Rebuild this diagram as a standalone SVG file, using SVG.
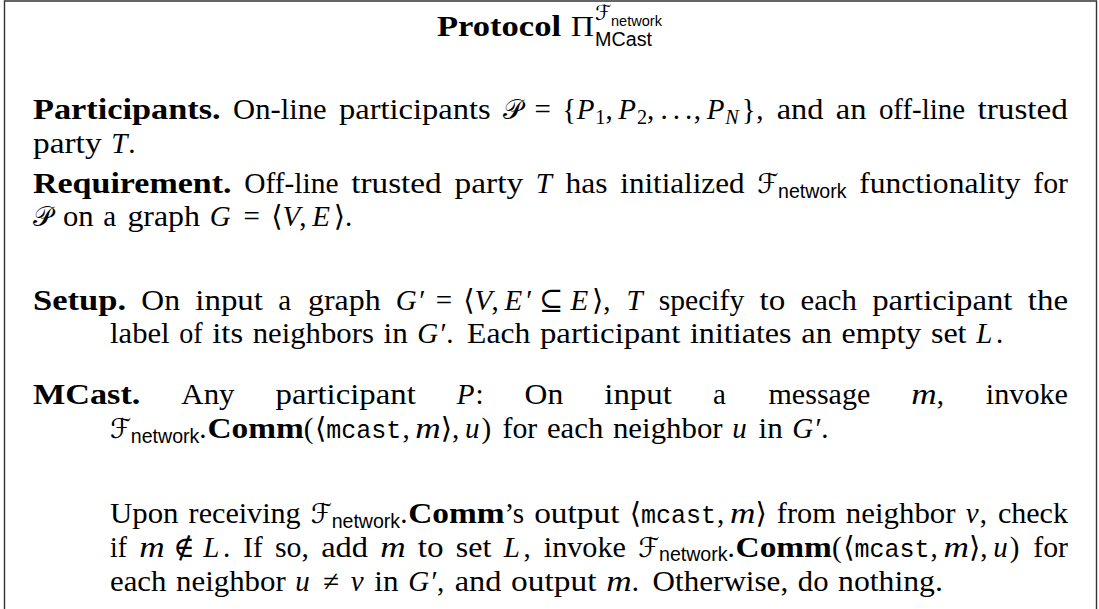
<svg xmlns="http://www.w3.org/2000/svg" width="1099" height="609" viewBox="0 0 1099 609">
<style>
text{fill:#000}
.r{font-family:"Liberation Serif","DejaVu Serif",serif;font-size:29px}
.b{font-family:"Liberation Serif","DejaVu Serif",serif;font-size:29px;font-weight:bold}
.i{font-family:"Liberation Serif","DejaVu Serif",serif;font-size:29px;font-style:italic}
.sm{font-size:20.3px}
.s{font-family:"Liberation Sans","DejaVu Sans",sans-serif;font-size:19.6px}
.t{font-family:"Liberation Mono","DejaVu Sans Mono",monospace;font-size:25px}
.c{font-family:"DejaVu Serif","DejaVu Sans",serif;font-size:27px}
.rel{text-anchor:middle}
.frame{fill:none;stroke:#333;stroke-width:1.4}
</style>
<path class="frame" d="M4.5,615 V1 H1096.5 V615"/>

<g id="title">
<text class="b" x="437" y="36" textLength="124" lengthAdjust="spacingAndGlyphs">Protocol</text>
<text class="r" x="571" y="36" textLength="23" lengthAdjust="spacingAndGlyphs">Π</text>
<text class="c" x="595" y="20" style="font-size:21px">ℱ</text>
<text class="s" x="611" y="26" style="font-size:14px" textLength="51" lengthAdjust="spacingAndGlyphs">network</text>
<text class="s" x="595" y="46" style="font-size:19.6px" textLength="57" lengthAdjust="spacingAndGlyphs">MCast</text>
</g>

<g id="participants">
<text class="b" x="33" y="119" textLength="187.68" lengthAdjust="spacingAndGlyphs">Participants.</text>
<text class="r" x="233.11" y="119" textLength="93.47" lengthAdjust="spacingAndGlyphs">On-line</text>
<text class="r" x="339.01" y="119" textLength="151.72" lengthAdjust="spacingAndGlyphs">participants</text>
<text class="c" x="503.16" y="119">𝒫</text>
<text class="r rel" x="542.8" y="119">=</text>
<text class="r" x="562.14" y="119">{</text>
<text class="i" x="576.64" y="119">P</text>
<text class="r sm" x="595.26" y="123.5">1</text>
<text class="r" x="605.41" y="119">,</text>
<text class="i" x="618.31" y="119">P</text>
<text class="r sm" x="636.93" y="123.5">2</text>
<text class="r" x="647.08" y="119">,</text>
<text class="r" x="660.4" y="119">.</text>
<text class="r" x="672.7" y="119">.</text>
<text class="r" x="685" y="119">.</text>
<text class="r" x="693.84" y="119">,</text>
<text class="i" x="706.74" y="119">P</text>
<text class="i sm" x="725.36" y="123.5">N</text>
<text class="r" x="741.66" y="119">}</text>
<text class="r" x="756.16" y="119">,</text>
<text class="r" x="776.65" y="119" textLength="46.75" lengthAdjust="spacingAndGlyphs">and</text>
<text class="r" x="835.83" y="119" textLength="30.63" lengthAdjust="spacingAndGlyphs">an</text>
<text class="r" x="878.89" y="119" textLength="86.18" lengthAdjust="spacingAndGlyphs">off-line</text>
<text class="r" x="977.5" y="119" textLength="90.48" lengthAdjust="spacingAndGlyphs">trusted</text>
<text class="r" x="33" y="152.5" textLength="68.58" lengthAdjust="spacingAndGlyphs">party</text>
<text class="i" x="111.24" y="152.5">T</text>
<text class="r" x="128.18" y="152.5">.</text>
</g>

<g id="requirement">
<text class="b" x="33" y="192.5" textLength="198.52" lengthAdjust="spacingAndGlyphs">Requirement.</text>
<text class="r" x="244.28" y="192.5" textLength="94.24" lengthAdjust="spacingAndGlyphs">Off-line</text>
<text class="r" x="351.28" y="192.5" textLength="90.48" lengthAdjust="spacingAndGlyphs">trusted</text>
<text class="r" x="454.52" y="192.5" textLength="68.58" lengthAdjust="spacingAndGlyphs">party</text>
<text class="i" x="535.86" y="192.5">T</text>
<text class="r" x="565.56" y="192.5" textLength="42.05" lengthAdjust="spacingAndGlyphs">has</text>
<text class="r" x="620.37" y="192.5" textLength="124.07" lengthAdjust="spacingAndGlyphs">initialized</text>
<text class="c" x="757.2" y="192.5">ℱ</text>
<text class="s" x="778.05" y="197.5" textLength="68.5" lengthAdjust="spacingAndGlyphs">network</text>
<text class="r" x="859.31" y="192.5" textLength="161.16" lengthAdjust="spacingAndGlyphs">functionality</text>
<text class="r" x="1033.23" y="192.5" textLength="34.74" lengthAdjust="spacingAndGlyphs">for</text>
<text class="c" x="33" y="226">𝒫</text>
<text class="r" x="62.96" y="226" textLength="30.62" lengthAdjust="spacingAndGlyphs">on</text>
<text class="r" x="103.24" y="226">a</text>
<text class="r" x="127.4" y="226" textLength="72.61" lengthAdjust="spacingAndGlyphs">graph</text>
<text class="i" x="209.67" y="226">G</text>
<text class="r rel" x="251.8" y="226">=</text>
<text class="r" x="271.14" y="226">⟨</text>
<text class="i" x="282.42" y="226">V</text>
<text class="r" x="299.33" y="226">,</text>
<text class="i" x="312.23" y="226">E</text>
<text class="r" x="333.63" y="226">⟩</text>
<text class="r" x="344.91" y="226">.</text>
</g>

<g id="setup">
<text class="b" x="33" y="309.5" textLength="93.08" lengthAdjust="spacingAndGlyphs">Setup.</text>
<text class="r" x="141.34" y="309.5" textLength="38.68" lengthAdjust="spacingAndGlyphs">On</text>
<text class="r" x="195.28" y="309.5" textLength="67.7" lengthAdjust="spacingAndGlyphs">input</text>
<text class="r" x="278.24" y="309.5">a</text>
<text class="r" x="308" y="309.5" textLength="72.61" lengthAdjust="spacingAndGlyphs">graph</text>
<text class="i" x="395.87" y="309.5">G</text>
<text class="r" x="419.2" y="309.5">′</text>
<text class="r rel" x="444" y="309.5">=</text>
<text class="r" x="463.34" y="309.5">⟨</text>
<text class="i" x="474.62" y="309.5">V</text>
<text class="r" x="491.53" y="309.5">,</text>
<text class="i" x="504.43" y="309.5">E</text>
<text class="r" x="526.3" y="309.5">′</text>
<text class="r rel" x="551.17" y="309.5">⊆</text>
<text class="i" x="570.51" y="309.5">E</text>
<text class="r" x="591.91" y="309.5">⟩</text>
<text class="r" x="603.19" y="309.5">,</text>
<text class="i" x="626.51" y="309.5">T</text>
<text class="r" x="658.71" y="309.5" textLength="85.55" lengthAdjust="spacingAndGlyphs">specify</text>
<text class="r" x="759.52" y="309.5" textLength="25.78" lengthAdjust="spacingAndGlyphs">to</text>
<text class="r" x="800.56" y="309.5" textLength="56.38" lengthAdjust="spacingAndGlyphs">each</text>
<text class="r" x="872.2" y="309.5" textLength="140.29" lengthAdjust="spacingAndGlyphs">participant</text>
<text class="r" x="1027.75" y="309.5" textLength="40.28" lengthAdjust="spacingAndGlyphs">the</text>
<text class="r" x="110" y="343" textLength="59.62" lengthAdjust="spacingAndGlyphs">label</text>
<text class="r" x="179.28" y="343" textLength="23.37" lengthAdjust="spacingAndGlyphs">of</text>
<text class="r" x="212.31" y="343" textLength="30.77" lengthAdjust="spacingAndGlyphs">its</text>
<text class="r" x="252.74" y="343" textLength="121.1" lengthAdjust="spacingAndGlyphs">neighbors</text>
<text class="r" x="383.5" y="343" textLength="24.18" lengthAdjust="spacingAndGlyphs">in</text>
<text class="i" x="417.34" y="343">G</text>
<text class="r" x="440.5" y="343">′</text>
<text class="r" x="446.13" y="343">.</text>
<text class="r" x="467.07" y="343" textLength="63.25" lengthAdjust="spacingAndGlyphs">Each</text>
<text class="r" x="539.98" y="343" textLength="140.29" lengthAdjust="spacingAndGlyphs">participant</text>
<text class="r" x="689.93" y="343" textLength="101.67" lengthAdjust="spacingAndGlyphs">initiates</text>
<text class="r" x="801.26" y="343" textLength="30.62" lengthAdjust="spacingAndGlyphs">an</text>
<text class="r" x="841.54" y="343" textLength="79.75" lengthAdjust="spacingAndGlyphs">empty</text>
<text class="r" x="930.95" y="343" textLength="35.59" lengthAdjust="spacingAndGlyphs">set</text>
<text class="i" x="976.2" y="343">L</text>
<text class="r" x="995.95" y="343">.</text>
</g>

<g id="mcast">
<text class="b" x="33" y="403.5" textLength="107.33" lengthAdjust="spacingAndGlyphs">MCast.</text>
<text class="r" x="181.35" y="403.5" textLength="53.18" lengthAdjust="spacingAndGlyphs">Any</text>
<text class="r" x="275.55" y="403.5" textLength="140.29" lengthAdjust="spacingAndGlyphs">participant</text>
<text class="i" x="456.86" y="403.5">P</text>
<text class="r" x="475.48" y="403.5">:</text>
<text class="r" x="524.56" y="403.5" textLength="38.68" lengthAdjust="spacingAndGlyphs">On</text>
<text class="r" x="604.26" y="403.5" textLength="67.7" lengthAdjust="spacingAndGlyphs">input</text>
<text class="r" x="712.98" y="403.5">a</text>
<text class="r" x="768.5" y="403.5" textLength="101.78" lengthAdjust="spacingAndGlyphs">message</text>
<text class="i" x="911.3" y="403.5" textLength="25.46" lengthAdjust="spacingAndGlyphs">m</text>
<text class="r" x="936.76" y="403.5">,</text>
<text class="r" x="985.84" y="403.5" textLength="82.18" lengthAdjust="spacingAndGlyphs">invoke</text>

<text class="c" x="110" y="437.5">ℱ</text>
<text class="s" x="130.85" y="442.5" textLength="68.5" lengthAdjust="spacingAndGlyphs">network</text>
<text class="r" x="199.35" y="437.5">.</text>
<text class="b" x="207.41" y="437.5" textLength="96.34" lengthAdjust="spacingAndGlyphs">Comm</text>
<text class="r" x="303.75" y="437.5">(</text>
<text class="r" x="315.03" y="437.5">⟨</text>
<text class="t" x="326.31" y="437.5" textLength="75" lengthAdjust="spacingAndGlyphs">mcast</text>
<text class="r" x="402.44" y="437.5">,</text>
<text class="i" x="415.34" y="437.5" textLength="25.46" lengthAdjust="spacingAndGlyphs">m</text>
<text class="r" x="440.8" y="437.5">⟩</text>
<text class="r" x="452.08" y="437.5">,</text>
<text class="i" x="464.98" y="437.5">u</text>
<text class="r" x="481.57" y="437.5">)</text>
<text class="r" x="502.51" y="437.5" textLength="34.74" lengthAdjust="spacingAndGlyphs">for</text>
<text class="r" x="546.91" y="437.5" textLength="56.38" lengthAdjust="spacingAndGlyphs">each</text>
<text class="r" x="612.95" y="437.5" textLength="109.67" lengthAdjust="spacingAndGlyphs">neighbor</text>
<text class="i" x="732.28" y="437.5">u</text>
<text class="r" x="758.53" y="437.5" textLength="24.18" lengthAdjust="spacingAndGlyphs">in</text>
<text class="i" x="792.37" y="437.5">G</text>
<text class="r" x="815.5" y="437.5">′</text>
<text class="r" x="821.16" y="437.5">.</text>

<text class="r" x="110" y="523" textLength="68.49" lengthAdjust="spacingAndGlyphs">Upon</text>
<text class="r" x="188.61" y="523" textLength="112.06" lengthAdjust="spacingAndGlyphs">receiving</text>
<text class="c" x="310.79" y="523">ℱ</text>
<text class="s" x="331.64" y="528" textLength="68.5" lengthAdjust="spacingAndGlyphs">network</text>
<text class="r" x="400.14" y="523">.</text>
<text class="b" x="408.2" y="523" textLength="96.34" lengthAdjust="spacingAndGlyphs">Comm</text>
<text class="r" x="504.54" y="523" textLength="19.49" lengthAdjust="spacingAndGlyphs">’s</text>
<text class="r" x="534.15" y="523" textLength="85.42" lengthAdjust="spacingAndGlyphs">output</text>
<text class="r" x="629.69" y="523">⟨</text>
<text class="t" x="640.97" y="523" textLength="75" lengthAdjust="spacingAndGlyphs">mcast</text>
<text class="r" x="717.1" y="523">,</text>
<text class="i" x="730" y="523" textLength="25.46" lengthAdjust="spacingAndGlyphs">m</text>
<text class="r" x="755.46" y="523">⟩</text>
<text class="r" x="776.86" y="523" textLength="58.9" lengthAdjust="spacingAndGlyphs">from</text>
<text class="r" x="845.88" y="523" textLength="109.67" lengthAdjust="spacingAndGlyphs">neighbor</text>
<text class="i" x="965.67" y="523">v</text>
<text class="r" x="979.74" y="523">,</text>
<text class="r" x="997.92" y="523" textLength="70.07" lengthAdjust="spacingAndGlyphs">check</text>

<text class="r" x="110" y="556.5" textLength="16.93" lengthAdjust="spacingAndGlyphs">if</text>
<text class="i" x="139.17" y="556.5" textLength="25.46" lengthAdjust="spacingAndGlyphs">m</text>
<text class="r rel" x="183.97" y="556.5">∉</text>
<text class="i" x="203.31" y="556.5">L</text>
<text class="r" x="223.06" y="556.5">.</text>
<text class="r" x="243.36" y="556.5" textLength="19.34" lengthAdjust="spacingAndGlyphs">If</text>
<text class="r" x="274.94" y="556.5" textLength="33.99" lengthAdjust="spacingAndGlyphs">so,</text>
<text class="r" x="321.17" y="556.5" textLength="46.74" lengthAdjust="spacingAndGlyphs">add</text>
<text class="i" x="380.15" y="556.5" textLength="25.46" lengthAdjust="spacingAndGlyphs">m</text>
<text class="r" x="417.85" y="556.5" textLength="25.78" lengthAdjust="spacingAndGlyphs">to</text>
<text class="r" x="455.87" y="556.5" textLength="35.59" lengthAdjust="spacingAndGlyphs">set</text>
<text class="i" x="503.7" y="556.5">L</text>
<text class="r" x="523.45" y="556.5">,</text>
<text class="r" x="543.75" y="556.5" textLength="82.18" lengthAdjust="spacingAndGlyphs">invoke</text>
<text class="c" x="638.17" y="556.5">ℱ</text>
<text class="s" x="659.02" y="561" textLength="68.5" lengthAdjust="spacingAndGlyphs">network</text>
<text class="r" x="727.52" y="556.5">.</text>
<text class="b" x="735.58" y="556.5" textLength="96.34" lengthAdjust="spacingAndGlyphs">Comm</text>
<text class="r" x="831.92" y="556.5">(</text>
<text class="r" x="843.2" y="556.5">⟨</text>
<text class="t" x="854.48" y="556.5" textLength="75" lengthAdjust="spacingAndGlyphs">mcast</text>
<text class="r" x="930.61" y="556.5">,</text>
<text class="i" x="943.51" y="556.5" textLength="25.46" lengthAdjust="spacingAndGlyphs">m</text>
<text class="r" x="968.97" y="556.5">⟩</text>
<text class="r" x="980.25" y="556.5">,</text>
<text class="i" x="993.15" y="556.5">u</text>
<text class="r" x="1009.74" y="556.5">)</text>
<text class="r" x="1033.26" y="556.5" textLength="34.74" lengthAdjust="spacingAndGlyphs">for</text>

<text class="r" x="110" y="590.5" textLength="56.38" lengthAdjust="spacingAndGlyphs">each</text>
<text class="r" x="176.04" y="590.5" textLength="109.67" lengthAdjust="spacingAndGlyphs">neighbor</text>
<text class="i" x="295.37" y="590.5">u</text>
<text class="r rel" x="331.3" y="590.5">≠</text>
<text class="i" x="350.64" y="590.5">v</text>
<text class="r" x="374.37" y="590.5" textLength="24.18" lengthAdjust="spacingAndGlyphs">in</text>
<text class="i" x="408.21" y="590.5">G</text>
<text class="r" x="431.5" y="590.5">′</text>
<text class="r" x="437" y="590.5">,</text>
<text class="r" x="454.72" y="590.5" textLength="46.75" lengthAdjust="spacingAndGlyphs">and</text>
<text class="r" x="511.13" y="590.5" textLength="85.42" lengthAdjust="spacingAndGlyphs">output</text>
<text class="i" x="606.21" y="590.5" textLength="25.46" lengthAdjust="spacingAndGlyphs">m</text>
<text class="r" x="631.67" y="590.5">.</text>
<text class="r" x="652.61" y="590.5" textLength="135.58" lengthAdjust="spacingAndGlyphs">Otherwise,</text>
<text class="r" x="797.85" y="590.5" textLength="30.62" lengthAdjust="spacingAndGlyphs">do</text>
<text class="r" x="838.13" y="590.5" textLength="104.76" lengthAdjust="spacingAndGlyphs">nothing.</text>
</g>
</svg>
